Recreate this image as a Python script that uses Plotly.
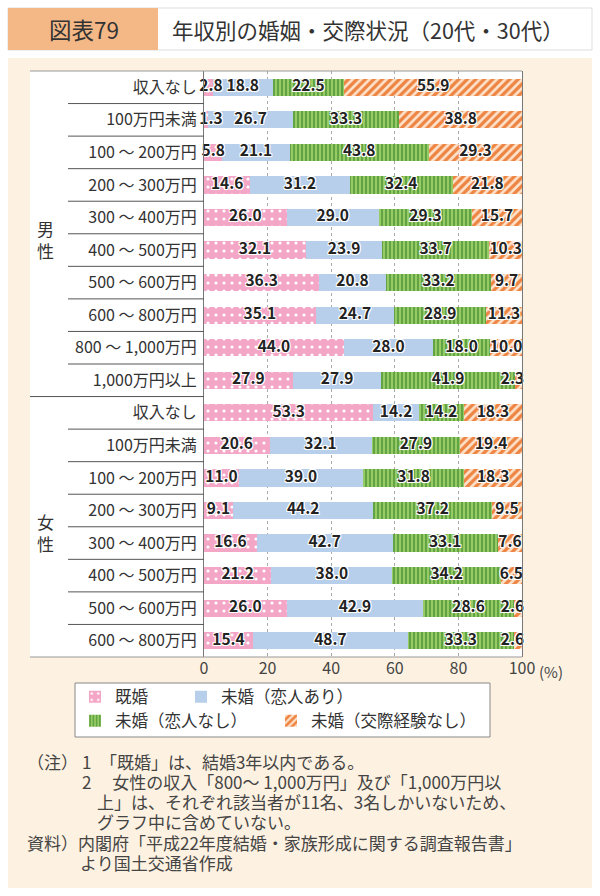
import plotly.graph_objects as go

# ---------------- data ----------------
group_labels = ["男<br>性", "女<br>性"]
male_categories = ["収入なし", "100万円未満", "100 ～ 200万円", "200 ～ 300万円", "300 ～ 400万円",
                   "400 ～ 500万円", "500 ～ 600万円", "600 ～ 800万円", "800 ～ 1,000万円", "1,000万円以上"]
female_categories = ["収入なし", "100万円未満", "100 ～ 200万円", "200 ～ 300万円", "300 ～ 400万円",
                     "400 ～ 500万円", "500 ～ 600万円", "600 ～ 800万円"]

series_names = ["既婚", "未婚（恋人あり）", "未婚（恋人なし）", "未婚（交際経験なし）"]

male_married = [2.8, 1.3, 5.8, 14.6, 26.0, 32.1, 36.3, 35.1, 44.0, 27.9]
male_partner = [18.8, 26.7, 21.1, 31.2, 29.0, 23.9, 20.8, 24.7, 28.0, 27.9]
male_no_partner = [22.5, 33.3, 43.8, 32.4, 29.3, 33.7, 33.2, 28.9, 18.0, 41.9]
male_never = [55.9, 38.8, 29.3, 21.8, 15.7, 10.3, 9.7, 11.3, 10.0, 2.3]

female_married = [53.3, 20.6, 11.0, 9.1, 16.6, 21.2, 26.0, 15.4]
female_partner = [14.2, 32.1, 39.0, 44.2, 42.7, 38.0, 42.9, 48.7]
female_no_partner = [14.2, 27.9, 31.8, 37.2, 33.1, 34.2, 28.6, 33.3]
female_never = [18.3, 19.4, 18.3, 9.5, 7.6, 6.5, 2.6, 2.6]

x_tick_values = [0, 20, 40, 60, 80, 100]
x_tick_labels = ["0", "20", "40", "60", "80", "100"]

title_number = "図表79"
title_text = "年収別の婚姻・交際状況（20代・30代）"
unit_text = "(%)"
note_lines = [
    ("（注）", 26, 761),
    ("1　「既婚」は、結婚3年以内である。", 81, 761),
    ("2　 女性の収入「800～ 1,000万円」及び「1,000万円以", 81, 781),
    ("上」は、それぞれ該当者が11名、3名しかいないため、", 96, 801),
    ("グラフ中に含めていない。", 96, 821),
    ("資料）", 26, 842),
    ("内閣府「平成22年度結婚・家族形成に関する調査報告書」", 77, 842),
    ("より国土交通省作成", 79, 862),
]

# ---------------- build ----------------
categories = male_categories + female_categories
rows = list(range(len(categories)))
series = [
    male_married + female_married,
    male_partner + female_partner,
    male_no_partner + female_no_partner,
    male_never + female_never,
]

FONT = "Noto Sans CJK JP, Noto Sans, sans-serif"
W, H = 600, 896
L, R, T, B = 204, 78, 71, 239
PW = W - L - R
PH = H - T - B


def px(x):
    return (x - L) / PW


def py(y):
    return (H - B - y) / PH


styles = [
    dict(color="#f4a6c6", pattern=dict(shape=".", fgcolor="#ffffff", bgcolor="#f4a6c6",
                                       size=8, solidity=0.12, fillmode="replace")),
    dict(color="#b7cfea"),
    dict(color="#8cc45a", pattern=dict(shape="|", fgcolor="#3f8a2c", bgcolor="#96cb66",
                                       size=4, solidity=0.3, fillmode="replace")),
    dict(color="#f29a5c", pattern=dict(shape="/", fgcolor="#ee8442", bgcolor="#fde3cc",
                                       size=6, solidity=0.55, fillmode="replace")),
]
legend_ids = ["legend", "legend2", "legend3", "legend4"]
# legend text start (px) and row centre (px)
legend_pos = [(116, 697), (222, 697), (116, 721), (312, 721)]

fig = go.Figure()
for i, (name, vals) in enumerate(zip(series_names, series)):
    fig.add_trace(go.Bar(
        x=vals, y=rows, orientation="h", name=name,
        marker=dict(line=dict(width=0), **styles[i]),
        legend=legend_ids[i],
        hoverinfo="skip",
    ))

# value labels at segment centres
lx, ly, lt = [], [], []
for r in rows:
    cum = 0.0
    for vals in series:
        v = vals[r]
        c = cum + v / 2
        c = min(max(c, 2.2), 97.0)
        lx.append(c)
        ly.append(r)
        lt.append(f"{v:.1f}")
        cum += v
fig.add_trace(go.Scatter(
    x=lx, y=ly, text=lt, mode="text", showlegend=False, hoverinfo="skip", cliponaxis=False,
    textfont=dict(family=FONT, size=15.5, color="#222", weight="bold",
                  shadow="1px 1px 0 #fff, -1px -1px 0 #fff, 1px -1px 0 #fff, -1px 1px 0 #fff, 0 0 2px #fff"),
))

shapes = []
# peach page area
shapes.append(dict(type="rect", xref="paper", yref="paper", x0=px(8), x1=px(592), y0=py(58), y1=py(888),
                   fillcolor="#fdf1e1", line=dict(width=0), layer="below"))
# header
shapes.append(dict(type="rect", xref="paper", yref="paper", x0=px(8), x1=px(592), y0=py(8), y1=py(50),
                   fillcolor="#ffffff", line=dict(color="#dddddd", width=1), layer="below"))
shapes.append(dict(type="rect", xref="paper", yref="paper", x0=px(8), x1=px(158), y0=py(8), y1=py(50),
                   fillcolor="#f4b887", line=dict(width=0), layer="below"))
# white panel
shapes.append(dict(type="rect", xref="paper", yref="paper", x0=px(30), x1=px(522), y0=py(657), y1=py(71),
                   fillcolor="#ffffff", line=dict(width=0), layer="below"))
shapes.append(dict(type="line", xref="paper", yref="paper", x0=px(30), x1=1, y0=1, y1=1,
                   line=dict(color="#999999", width=1)))
shapes.append(dict(type="line", xref="paper", yref="paper", x0=px(30), x1=1, y0=0, y1=0,
                   line=dict(color="#999999", width=1)))
# row separators in label column
for r in rows[:-1]:
    x0 = px(30) if r == len(male_categories) - 1 else px(68)
    shapes.append(dict(type="line", xref="paper", yref="y", x0=x0, x1=0, y0=r + 0.5, y1=r + 0.5,
                       line=dict(color="#555555", width=1)))
# legend frame
shapes.append(dict(type="rect", xref="paper", yref="paper", x0=px(75), x1=px(490), y0=py(737), y1=py(683),
                   fillcolor="#ffffff", line=dict(color="#888888", width=1), layer="below"))

annotations = []
annotations.append(dict(text=title_number, xref="paper", yref="paper", x=px(84), y=py(29),
                        xanchor="center", yanchor="middle", showarrow=False,
                        font=dict(family=FONT, size=22.5, color="#333")))
annotations.append(dict(text=title_text, xref="paper", yref="paper", x=px(170), y=py(29),
                        xanchor="left", yanchor="middle", showarrow=False,
                        font=dict(family=FONT, size=21.5, color="#333")))
male_mid = (len(male_categories) - 1) / 2
female_mid = len(male_categories) + (len(female_categories) - 1) / 2
for lab, mid in zip(group_labels, [male_mid, female_mid]):
    annotations.append(dict(text=lab, xref="paper", yref="y", x=px(45), y=mid, yshift=-6,
                            xanchor="center", yanchor="middle", showarrow=False,
                            font=dict(family=FONT, size=17, color="#333")))
annotations.append(dict(text=unit_text, xref="paper", yref="paper", x=px(537), y=py(671),
                        xanchor="left", yanchor="middle", showarrow=False,
                        font=dict(family=FONT, size=15, color="#444")))
for txt, xx, yy in note_lines:
    annotations.append(dict(text=txt, xref="paper", yref="paper", x=px(xx), y=py(yy),
                            xanchor="left", yanchor="middle", showarrow=False, align="left",
                            font=dict(family=FONT, size=17, color="#444"), borderpad=0))

legend_layout = {}
for lid, (tx, ty) in zip(legend_ids, legend_pos):
    legend_layout[lid] = dict(orientation="h", x=px(tx - 41), y=py(ty), xanchor="left", yanchor="middle",
                              bgcolor="rgba(0,0,0,0)", font=dict(family=FONT, size=16.5, color="#333"),
                              itemclick=False, itemdoubleclick=False)

fig.update_layout(
    width=W, height=H,
    margin=dict(l=L, r=R, t=T, b=B, autoexpand=False),
    paper_bgcolor="#ffffff", plot_bgcolor="rgba(0,0,0,0)",
    barmode="stack", bargap=0.47,
    font=dict(family=FONT, size=16, color="#333"),
    xaxis=dict(range=[0, 100], tickvals=x_tick_values, ticktext=x_tick_labels,
               showgrid=True, gridcolor="#aaaaaa", griddash="3px,3px", gridwidth=1,
               zeroline=False, showline=False, ticks="", fixedrange=True,
               tickfont=dict(family=FONT, size=16, color="#444")),
    yaxis=dict(range=[len(categories) - 0.5, -0.5], tickvals=rows, ticktext=categories,
               showgrid=False, zeroline=False, showline=True, linecolor="#777777", mirror=True,
               ticks="", ticklabelstandoff=3, fixedrange=True,
               tickfont=dict(family=FONT, size=16, color="#333")),
    shapes=shapes, annotations=annotations,
    **legend_layout,
)

fig.write_html("out.html", config={"displayModeBar": False},
               post_script="document.body.style.margin='0';document.body.style.overflow='hidden';")
